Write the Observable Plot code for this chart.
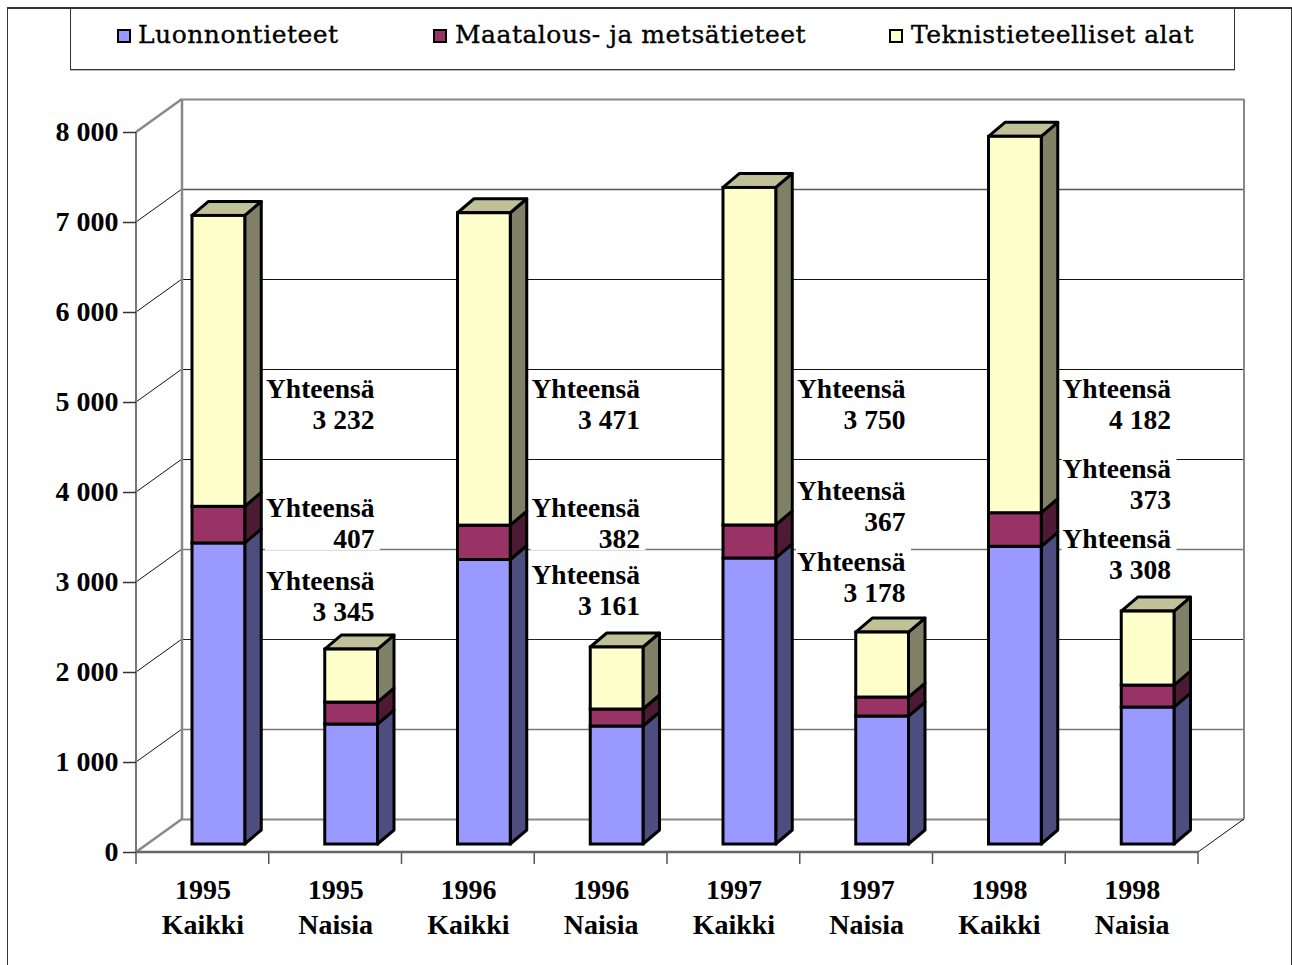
<!DOCTYPE html>
<html><head><meta charset="utf-8">
<script src="https://cdn.jsdelivr.net/npm/d3@7"></script>
<script src="https://cdn.jsdelivr.net/npm/@observablehq/plot@0.6"></script>
<style>
html,body{margin:0;padding:0;background:#fff;width:1292px;height:965px;overflow:hidden}
#wrap{position:relative;width:1292px;height:965px;font-family:"Liberation Serif",serif;color:#000}
#frame{position:absolute;left:7px;top:7px;width:1285px;height:970px;border-left:1px solid #333;border-right:1px solid #333;border-top:2px solid #333;box-sizing:border-box;pointer-events:none}
#legend{position:relative;height:69px}
#legbox{position:absolute;left:70px;top:8px;width:1165px;height:62px;border:1px solid #333;border-top:none;box-sizing:border-box;box-shadow:0 1px 0 #bbb}
.it{position:absolute;top:18px;height:34px;line-height:34px;font-family:"DejaVu Serif",serif;font-size:25px;-webkit-text-stroke:.35px #000;white-space:nowrap;letter-spacing:.5px}
.sw{position:absolute;top:29px;width:14px;height:14px;border:2.5px solid #000;box-sizing:border-box}
svg{display:block}
</style></head><body>
<div id="wrap"><div id="legend"><div id="legbox"></div></div><div id="chart"></div><div id="frame"></div></div>
<script>
const categories = ["1995 Kaikki","1995 Naisia","1996 Kaikki","1996 Naisia","1997 Kaikki","1997 Naisia","1998 Kaikki","1998 Naisia"];
const seriesNames = ["Luonnontieteet","Maatalous- ja metsätieteet","Teknistieteelliset alat"];
const luonnontieteet = [3345,1333,3161,1311,3178,1422,3308,1522];
const maatalous = [407,244,382,189,367,211,373,244];
const tekniset = [3232,589,3471,689,3750,722,4182,822];
const yTicks = [0,1000,2000,3000,4000,5000,6000,7000,8000];
const labelYears = ["1995 Kaikki","1996 Kaikki","1997 Kaikki","1998 Kaikki"];
const labelLevels = [[2855,3667,4989],[2922,3667,4989],[3067,3855,4989],[3322,4100,4989]];

const front = ["#9999FF","#993366","#FFFFCC"];
const side = ["#4D4D80","#4D1A33","#808066"];
const topFace = "#C0C099";
const gridColor = ["#888","#777","#222","#777","#111","#111","#111","#555","#888"];
const gridWidth = [2,1.5,1,1.5,1,1,1,1.5,2];
const wall = {dx:46, dy:-33}, barOff = {dx:16, dy:-8}, depth = {dx:16.5, dy:-14}, inset = 40;

const series = [luonnontieteet, maatalous, tekniset];
const stacks = categories.map((c,i)=>{let a=0;return series.map((s,k)=>{const r={cat:c,k,y0:a,y1:a+s[i]};a+=s[i];return r;});});
const flat = stacks.flat();
const fmt = n => d3.format(",")(n).replace(/,/g," ");
const labels = labelYears.flatMap((c,j)=>{const i=categories.indexOf(c);return series.map((s,k)=>({cat:c,level:labelLevels[j][k],text:"Yhteensä\n"+fmt(s[i])}));});
const FONT = '"Liberation Serif",serif';

function poly(g,pts,fill,stroke,w){g.append("polygon").attr("points",pts.map(p=>p.join(",")).join(" ")).attr("fill",fill).attr("stroke",stroke).attr("stroke-width",w).attr("stroke-linejoin","round");}

function walls(index,{x,y}){
  const g=d3.create("svg:g"), x0=x(categories[0]), bw=x.bandwidth?x.bandwidth():x(categories[1])-x0, x1=x0+bw*categories.length;
  const seg=(a,b,c,w)=>g.append("line").attr("x1",a[0]).attr("y1",a[1]).attr("x2",b[0]).attr("y2",b[1]).attr("stroke",c).attr("stroke-width",w);
  const y0=y(0),yT=y(8000);
  yTicks.forEach((t,i)=>seg([x0,y(t)],[x0+wall.dx,y(t)+wall.dy],i==0||i==8?"#888":"#111",i==0||i==8?2.5:1));
  seg([x0+wall.dx,y0+wall.dy],[x0+wall.dx,yT+wall.dy],"#888",2.5);
  seg([x1+wall.dx,y0+wall.dy],[x1+wall.dx,yT+wall.dy],"#888",2);
  seg([x0,y0],[x0,yT],"#777",2);
  seg([x1,y0],[x1+wall.dx,y0+wall.dy],"#111",1);
  categories.concat([null]).forEach((c,i)=>seg([x0+bw*i,y0],[x0+bw*i,y0+12],"#555",1.5));
  seg([x0,y0],[x1,y0],"#666",2.5);
  return g.node();
}
function labelBoxes(index,{x,y}){
  const g=d3.create("svg:g");
  labels.forEach(l=>g.append("rect").attr("x",x(l.cat)+129).attr("width",115).attr("y",y(l.level)-28).attr("height",56).attr("fill","#fff"));
  return g.node();
}
function faces3d(index,{x,y}){
  const g=d3.create("svg:g"), bw=x.bandwidth?x.bandwidth():x(categories[1])-x(categories[0]);
  flat.forEach(r=>{
    const L=x(r.cat)+inset+barOff.dx, R=x(r.cat)+bw-inset+barOff.dx, b=y(r.y0)+barOff.dy, t=y(r.y1)+barOff.dy;
    poly(g,[[R,b],[R+depth.dx,b+depth.dy],[R+depth.dx,t+depth.dy],[R,t]],side[r.k],"#000",3);
    if(r.k===2) poly(g,[[L,t],[R,t],[R+depth.dx,t+depth.dy],[L+depth.dx,t+depth.dy]],topFace,"#000",3);
  });
  return g.node();
}
const chart = Plot.plot({
  width:1292,height:896,marginLeft:136,marginRight:94,marginTop:63,marginBottom:113,
  style:{fontFamily:FONT,background:"transparent",overflow:"visible"},
  x:{type:"band",domain:categories,padding:0,round:false,axis:null},
  y:{domain:[0,8000],axis:null},
  marks:[
    Plot.ruleY(yTicks,{dx:wall.dx,dy:wall.dy,stroke:d=>gridColor[yTicks.indexOf(d)],strokeWidth:d=>gridWidth[yTicks.indexOf(d)]}),
    walls,
    labelBoxes,
    faces3d,
    Plot.barY(flat,{x:"cat",y1:"y0",y2:"y1",fill:d=>front[d.k],stroke:"#000",strokeWidth:3,insetLeft:inset,insetRight:inset,dx:barOff.dx,dy:barOff.dy}),
    Plot.axisY(yTicks,{tickSize:13,tickPadding:5,tickFormat:fmt,fontSize:28,fontWeight:700,stroke:"#333",strokeWidth:1.5,label:null,marginLeft:136}),
    Plot.axisX(categories,{tickSize:0,tickPadding:21,tickFormat:d=>d.replace(" ","\n"),fontSize:28,fontWeight:700,lineHeight:1.27,label:null}),
    Plot.text(labels,{x:"cat",y:"level",text:"text",dx:171.6,textAnchor:"end",fontSize:27.5,fontWeight:700,lineHeight:1.13,lineAnchor:"middle",fill:"#000"})
  ]
});
document.getElementById("chart").appendChild(chart);
const leg=document.getElementById("legend");
[[117,138],[433,455],[889,911]].forEach(([sx,tx],k)=>{
  const s=document.createElement("div");s.className="sw";s.style.left=sx+"px";s.style.background=front[k];leg.appendChild(s);
  const t=document.createElement("div");t.className="it";t.style.left=tx+"px";t.textContent=seriesNames[k];leg.appendChild(t);
});
</script></body></html>
